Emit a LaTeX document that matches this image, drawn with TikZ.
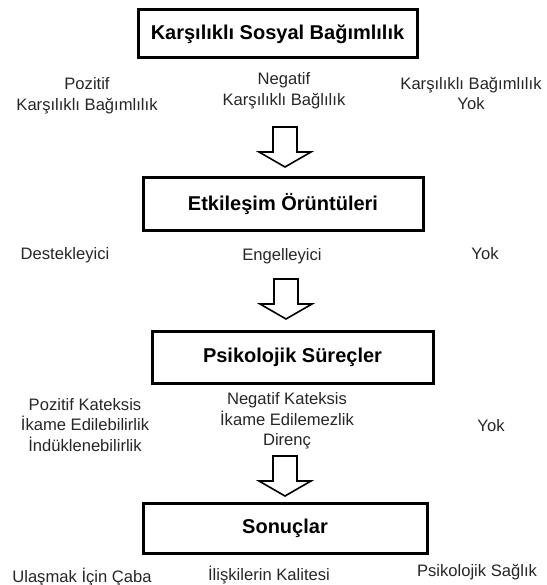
\documentclass[tikz,border=0pt]{standalone}
\usepackage{fontspec}
\setmainfont{Liberation Sans}
\begin{document}
\begin{tikzpicture}[x=1pt,y=-1pt,
  box/.style={draw=black,line width=3pt,inner sep=0pt,font=\fontsize{20}{24}\selectfont\bfseries},
  lbl/.style={inner sep=0pt,align=center,font=\fontsize{16.6}{20.5}\selectfont,text=black!85},
  blockarrow/.style={draw=black,line width=1.6pt,fill=white,line join=miter}]
\useasboundingbox (0,0) rectangle (546,585);
% boxes
\node[box,minimum width=279pt,minimum height=48pt] (b1) at (277.5,34) {Karşılıklı Sosyal Bağımlılık};
\node[box,minimum width=280pt,minimum height=52pt] (b2) at (283,204) {Etkileşim Örüntüleri};
\node[box,minimum width=281pt,minimum height=52pt] (b3) at (292.5,357) {Psikolojik Süreçler};
\node[box,minimum width=284pt,minimum height=50pt] (b4) at (285,528) {Sonuçlar};
% row 1 labels
\node[lbl] (p1) at (87,95.5) {Pozitif\\Karşılıklı Bağımlılık};
\node[lbl] (n1) at (284,90.5) {Negatif\\Karşılıklı Bağlılık};
\node[lbl] (y1) at (471,93.5) {Karşılıklı Bağımlılık\\Yok};
% row 2 labels
\node[lbl] (p2) at (65,255) {Destekleyici};
\node[lbl] (n2) at (282,256) {Engelleyici};
\node[lbl] (y2) at (485,254) {Yok};
% row 3 labels
\node[lbl] (p3) at (85,425) {Pozitif Kateksis\\İkame Edilebilirlik\\İndüklenebilirlik};
\node[lbl] (n3) at (287,421) {Negatif Kateksis\\İkame Edilemezlik\\Direnç};
\node[lbl] (y3) at (491,426) {Yok};
% row 4 labels
\node[lbl] (p4) at (82,577) {Ulaşmak İçin Çaba};
\node[lbl] (n4) at (269,575) {İlişkilerin Kalitesi};
\node[lbl] (y4) at (477,572) {Psikolojik Sağlık};
% block arrows
\foreach \c/\t in {285/127, 286/279, 285/456}{
  \draw[blockarrow] (\c-12,\t) -- (\c+12,\t) -- (\c+12,\t+25) -- (\c+26,\t+25)
    -- (\c,\t+40) -- (\c-26,\t+25) -- (\c-12,\t+25) -- cycle;
}
\end{tikzpicture}
\end{document}
